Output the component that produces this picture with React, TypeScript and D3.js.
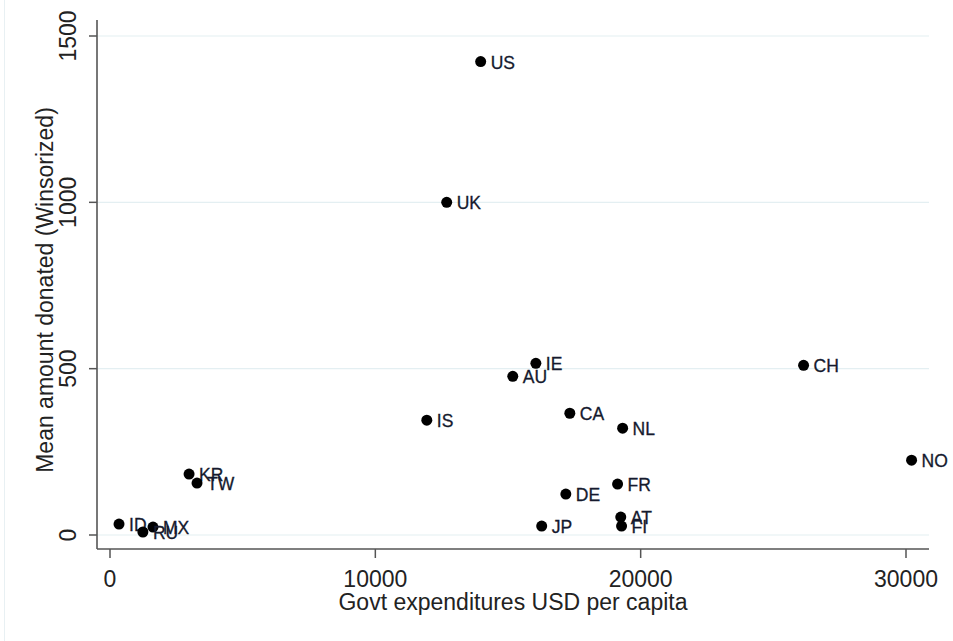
import React from "react";
import * as d3 from "d3";

const countries = ["US", "UK", "IE", "AU", "IS", "CA", "NL", "CH", "NO", "KR", "TW", "FR", "DE", "AT", "FI", "JP", "ID", "MX", "RU"];
const govtExp = [13970, 12690, 16050, 15180, 11940, 17330, 19320, 26140, 30210, 2980, 3280, 19130, 17180, 19250, 19280, 16270, 340, 1620, 1240];
const meanDonated = [1423, 1000, 516, 477, 345, 366, 321, 510, 225, 183, 156, 153, 123, 54, 27, 27, 33, 24, 9];
const xTicks = [0, 10000, 20000, 30000];
const yTicks = [0, 500, 1000, 1500];

const W = 953;
const H = 641;

export default function App() {
  const x = d3.scaleLinear().domain([0, 30000]).range([110, 906]);
  const y = d3.scaleLinear().domain([0, 1500]).range([535, 36]);
  const left = 97, right = 929, top = 20, bottom = 549;
  const font = "Arial, 'Liberation Sans', sans-serif";
  return (
    <div style={{ position: "fixed", left: 0, top: 0 }}>
      <svg width={W} height={H} style={{ display: "block", background: "#fff" }} fontFamily={font}>
        <line x1={4.5} x2={4.5} y1={0} y2={H} stroke="#e8f0f3" strokeWidth={1} />
        {yTicks.map((t) => (
          <line key={"g" + t} x1={left} x2={right} y1={y(t)} y2={y(t)} stroke="#e4eff2" strokeWidth={1.2} />
        ))}
        <line x1={left} x2={left} y1={top} y2={bottom} stroke="#555" strokeWidth={1.6} />
        <line x1={left} x2={right} y1={bottom} y2={bottom} stroke="#555" strokeWidth={1.6} />
        {yTicks.map((t) => (
          <g key={"y" + t}>
            <line x1={89} x2={left} y1={y(t)} y2={y(t)} stroke="#555" strokeWidth={1.5} />
            <text
              transform={`translate(76,${y(t)}) rotate(-90)`}
              textAnchor="middle"
              fontSize={23}
              fill="#222"
            >
              {t}
            </text>
          </g>
        ))}
        {xTicks.map((t) => (
          <g key={"x" + t}>
            <line x1={x(t)} x2={x(t)} y1={bottom} y2={bottom + 9} stroke="#555" strokeWidth={1.5} />
            <text x={x(t)} y={587} textAnchor="middle" fontSize={23} fill="#222">
              {t}
            </text>
          </g>
        ))}
        <text x={(left + right) / 2} y={610} textAnchor="middle" fontSize={23} fill="#222">
          Govt expenditures USD per capita
        </text>
        <text transform={`translate(53,290) rotate(-90)`} textAnchor="middle" fontSize={23} fill="#222">
          Mean amount donated (Winsorized)
        </text>
        {countries.map((c, i) => (
          <g key={c}>
            <circle cx={x(govtExp[i])} cy={y(meanDonated[i])} r={5.5} fill="#000" />
            <text
              x={x(govtExp[i]) + 10}
              y={y(meanDonated[i]) + 7}
              fontSize={17.5}
              fill="#151a2e"
              stroke="#151a2e"
              strokeWidth={0.3}
            >
              {c}
            </text>
          </g>
        ))}
      </svg>
    </div>
  );
}
